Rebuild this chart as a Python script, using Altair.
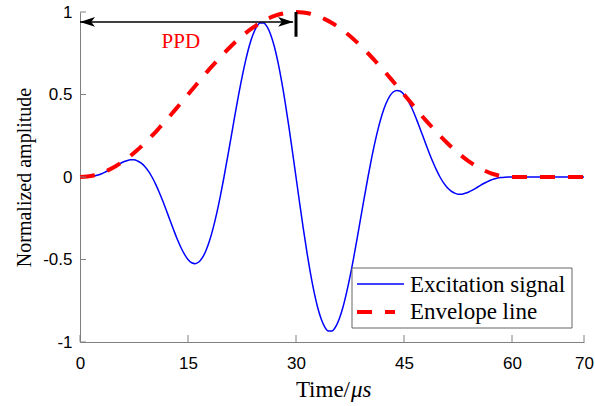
import altair as alt
import pandas as pd

# Excitation signal (Hanning-windowed tone burst), sampled every 0.5 us
signal_time = [
    0.0, 0.5, 1.0, 1.5, 2.0, 2.5, 3.0, 3.5, 4.0, 4.5,
    5.0, 5.5, 6.0, 6.5, 7.0, 7.5, 8.0, 8.5, 9.0, 9.5,
    10.0, 10.5, 11.0, 11.5, 12.0, 12.5, 13.0, 13.5, 14.0, 14.5,
    15.0, 15.5, 16.0, 16.5, 17.0, 17.5, 18.0, 18.5, 19.0, 19.5,
    20.0, 20.5, 21.0, 21.5, 22.0, 22.5, 23.0, 23.5, 24.0, 24.5,
    25.0, 25.5, 26.0, 26.5, 27.0, 27.5, 28.0, 28.5, 29.0, 29.5,
    30.0, 30.5, 31.0, 31.5, 32.0, 32.5, 33.0, 33.5, 34.0, 34.5,
    35.0, 35.5, 36.0, 36.5, 37.0, 37.5, 38.0, 38.5, 39.0, 39.5,
    40.0, 40.5, 41.0, 41.5, 42.0, 42.5, 43.0, 43.5, 44.0, 44.5,
    45.0, 45.5, 46.0, 46.5, 47.0, 47.5, 48.0, 48.5, 49.0, 49.5,
    50.0, 50.5, 51.0, 51.5, 52.0, 52.5, 53.0, 53.5, 54.0, 54.5,
    55.0, 55.5, 56.0, 56.5, 57.0, 57.5, 58.0, 58.5, 59.0, 59.5,
    60.0, 70.0,
]
signal_amp = [
    0.000, 0.000, 0.001, 0.003, 0.006, 0.012, 0.020, 0.030, 0.041, 0.054,
    0.067, 0.080, 0.091, 0.099, 0.104, 0.104, 0.097, 0.084, 0.064, 0.036,
    0.000, -0.043, -0.092, -0.146, -0.203, -0.262, -0.320, -0.376, -0.426, -0.468,
    -0.500, -0.520, -0.525, -0.515, -0.489, -0.445, -0.385, -0.308, -0.217, -0.114,
    0.000, 0.121, 0.245, 0.370, 0.491, 0.604, 0.705, 0.792, 0.860, 0.908,
    0.933, 0.934, 0.910, 0.861, 0.789, 0.695, 0.581, 0.451, 0.308, 0.156,
    0.000, -0.156, -0.308, -0.451, -0.581, -0.695, -0.789, -0.861, -0.910, -0.934,
    -0.933, -0.908, -0.860, -0.792, -0.705, -0.604, -0.491, -0.370, -0.245, -0.121,
    0.000, 0.114, 0.217, 0.308, 0.385, 0.445, 0.489, 0.515, 0.525, 0.520,
    0.500, 0.468, 0.426, 0.376, 0.320, 0.262, 0.203, 0.146, 0.092, 0.043,
    0.000, -0.036, -0.064, -0.084, -0.097, -0.104, -0.104, -0.099, -0.091, -0.080,
    -0.067, -0.054, -0.041, -0.030, -0.020, -0.012, -0.006, -0.003, -0.001, 0.000,
    0.000, 0.000,
]

# Envelope of the burst, every 1 us
envelope_time = [
    0, 1, 2, 3, 4, 5, 6, 7, 8, 9,
    10, 11, 12, 13, 14, 15, 16, 17, 18, 19,
    20, 21, 22, 23, 24, 25, 26, 27, 28, 29,
    30, 31, 32, 33, 34, 35, 36, 37, 38, 39,
    40, 41, 42, 43, 44, 45, 46, 47, 48, 49,
    50, 51, 52, 53, 54, 55, 56, 57, 58, 59,
    60, 70,
]
envelope_amp = [
    0.000, 0.003, 0.011, 0.024, 0.043, 0.067, 0.095, 0.128, 0.165, 0.206,
    0.250, 0.297, 0.345, 0.396, 0.448, 0.500, 0.552, 0.604, 0.655, 0.703,
    0.750, 0.794, 0.835, 0.872, 0.905, 0.933, 0.957, 0.976, 0.989, 0.997,
    1.000, 0.997, 0.989, 0.976, 0.957, 0.933, 0.905, 0.872, 0.835, 0.794,
    0.750, 0.703, 0.655, 0.604, 0.552, 0.500, 0.448, 0.396, 0.345, 0.297,
    0.250, 0.206, 0.165, 0.128, 0.095, 0.067, 0.043, 0.024, 0.011, 0.003,
    0.000, 0.000,
]

x_ticks = [0, 15, 30, 45, 60, 70]
y_ticks = [-1, -0.5, 0, 0.5, 1]

# Peak-to-peak duration annotation
ppd_start = 0.0
ppd_end = 29.6
ppd_level = 0.94
ppd_marker_t = 30.0
ppd_marker_v = [0.85, 1.0]
ppd_text = "PPD"
ppd_text_t = 14.0
ppd_text_v = 0.78

legend_labels = ["Excitation signal", "Envelope line"]
x_title = ["Time/", "\u03bcs"]
y_title = "Normalized amplitude"

BLUE = "#0000ff"
RED = "#ff0000"
AXIS_GRAY = "#808080"
SERIF = "Liberation Serif"
SANS = "Liberation Sans"

W, H = 504, 330

xs = alt.Scale(domain=[0, 70], nice=False, zero=False)
ys = alt.Scale(domain=[-1, 1], nice=False, zero=False)

x_axis = alt.Axis(
    values=x_ticks, labelExpr="'' + datum.value", labelFont=SANS, labelFontSize=17,
    labelColor="#000000", labelPadding=13, labelFlush=False, labelOverlap=False,
    ticks=False, tickSize=0, domainColor=AXIS_GRAY, domainWidth=1, grid=False, title=None,
)
y_axis = alt.Axis(
    values=y_ticks, labelExpr="'' + datum.value", labelFont=SANS, labelFontSize=17,
    labelColor="#000000", labelPadding=8, labelFlush=False, labelOverlap=False,
    ticks=False, tickSize=0, domainColor=AXIS_GRAY, domainWidth=1, grid=False,
    title=y_title, titleFont=SERIF, titleFontSize=20, titleFontWeight="normal",
    titleColor="#000000", titleAngle=270, titleAlign="center", titleBaseline="alphabetic",
    titleX=-50, titleY=165,
)


def X(field="t"):
    return alt.X(field, type="quantitative", scale=xs, axis=x_axis)


def Y(field="v"):
    return alt.Y(field, type="quantitative", scale=ys, axis=y_axis)


signal_df = pd.DataFrame({"t": signal_time, "v": signal_amp})
envelope_df = pd.DataFrame({"t": envelope_time, "v": envelope_amp})
one = pd.DataFrame({"k": [0]})

signal = alt.Chart(signal_df).mark_line(
    color=BLUE, strokeWidth=1.5, interpolate="monotone"
).encode(x=X(), y=Y())

envelope = alt.Chart(envelope_df).mark_line(
    color=RED, strokeWidth=4, strokeDash=[15, 13], interpolate="monotone"
).encode(x=X(), y=Y())

# double-headed arrow spanning the PPD
arrow_df = pd.DataFrame({"t": [ppd_start], "t2": [ppd_end], "v": [ppd_level]})
arrow_line = alt.Chart(arrow_df).mark_rule(color="#000000", strokeWidth=1.5).encode(
    x=X(), x2="t2", y=Y()
)
head_left = alt.Chart(pd.DataFrame({"t": [ppd_start], "v": [ppd_level]})).mark_point(
    shape="M0,0L2,-0.65L1.5,0L2,0.65Z", filled=True, color="#000000", size=225, opacity=1
).encode(x=X(), y=Y())
head_right = alt.Chart(pd.DataFrame({"t": [ppd_end], "v": [ppd_level]})).mark_point(
    shape="M0,0L-2,-0.65L-1.5,0L-2,0.65Z", filled=True, color="#000000", size=225, opacity=1
).encode(x=X(), y=Y())

marker = alt.Chart(
    pd.DataFrame({"t": [ppd_marker_t], "v": [ppd_marker_v[0]], "v2": [ppd_marker_v[1]]})
).mark_rule(color="#000000", strokeWidth=3).encode(x=X(), y=Y(), y2="v2")

ppd_label = alt.Chart(
    pd.DataFrame({"t": [ppd_text_t], "v": [ppd_text_v], "label": [ppd_text]})
).mark_text(
    font=SERIF, fontSize=21, color=RED, align="center", baseline="alphabetic"
).encode(x=X(), y=Y(), text="label:N")

# inward tick marks
x_tick_marks = alt.Chart(pd.DataFrame({"t": x_ticks})).mark_rule(
    color=AXIS_GRAY, strokeWidth=1
).encode(x=X(), y=alt.value(H), y2=alt.value(H - 7))
y_tick_marks = alt.Chart(pd.DataFrame({"v": y_ticks})).mark_rule(
    color=AXIS_GRAY, strokeWidth=1
).encode(y=Y(), x=alt.value(0), x2=alt.value(6))

# legend box
legend_box = alt.Chart(one).mark_rect(
    fill="#ffffff", stroke="#666666", strokeWidth=1
).encode(x=alt.value(272), x2=alt.value(492), y=alt.value(256), y2=alt.value(316))
legend_blue = alt.Chart(one).mark_rule(color=BLUE, strokeWidth=1.5).encode(
    x=alt.value(277), x2=alt.value(324), y=alt.value(272)
)
legend_red = alt.Chart(one).mark_rule(color=RED, strokeWidth=4, strokeDash=[15, 13]).encode(
    x=alt.value(277), x2=alt.value(315), y=alt.value(300)
)


def label_text(text, x, y, align="left", style="normal", size=23):
    return alt.Chart(pd.DataFrame({"label": [text]})).mark_text(
        font=SERIF, fontSize=size, fontStyle=style, color="#000000",
        align=align, baseline="alphabetic",
    ).encode(x=alt.value(x), y=alt.value(y), text="label:N")


legend_t1 = label_text(legend_labels[0], 330, 280)
legend_t2 = label_text(legend_labels[1], 330, 307)

xt1 = label_text(x_title[0], 270, 385, align="right")
xt2 = label_text(x_title[1], 271, 385, align="left", style="italic")

chart = alt.layer(
    signal, envelope, arrow_line, head_left, head_right, marker, ppd_label,
    x_tick_marks, y_tick_marks,
    legend_box, legend_blue, legend_red, legend_t1, legend_t2,
    xt1, xt2,
).properties(
    width=W, height=H,
    autosize=alt.AutoSizeParams(type="none"),
    padding={"left": 80, "top": 12, "right": 11, "bottom": 64},
    background="#ffffff",
).configure_view(stroke=None)

chart.save("out.html", embed_options={"renderer": "svg", "actions": False})
